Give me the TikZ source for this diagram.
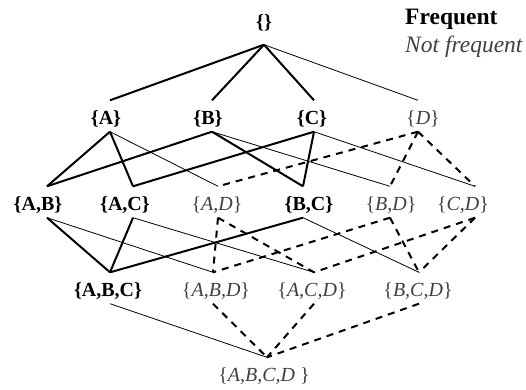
\documentclass[tikz,border=0pt]{standalone}
\usepackage{fontspec}
\setmainfont{Liberation Serif}
\usepackage{tikz}
\definecolor{infgray}{HTML}{404040}
\newcommand{\lbr}{{\upshape\{}}
\newcommand{\rbr}{{\upshape\}}}

\tikzset{
  set/.style={inner xsep=0pt, inner ysep=6pt, text height=18pt, text depth=1pt,
    font=\fontsize{20}{24}\selectfont},
  freq/.style={set, font=\fontsize{20}{24}\selectfont\bfseries},
  notfreq/.style={set, text=infgray, font=\fontsize{20}{24}\selectfont\itshape},
  freqedge/.style={line width=2pt},
  borderedge/.style={line width=0.8pt},
  infedge/.style={line width=2pt, dash pattern=on 7pt off 6pt}
}

\begin{document}
\begin{tikzpicture}[x=1pt, y=-1pt]
    		\useasboundingbox (0,0) rectangle (526,389);
    		
    		% the empty set
    		\node[freq] (e) at (264,20) {\lbr\rbr};
    		\coordinate (e-bot) at ([yshift=-9pt]e.south);
    		
    		% the lattice
    		\foreach \n/\x/\y/\dx/\st/\txt in {
    			a/106/116/4/freq/{A},
    			b/208/116/4/freq/{B},
    			c/312/116/2/freq/{C},
    			d/423/116/-5/notfreq/{D},
    			ab/38/202/9/freq/{A,B},
    			ac/125/202/8/freq/{A,C},
    			ad/217/202/1/notfreq/{A,D},
    			bc/309/202/-6/freq/{B,C},
    			bd/391/202/-1/notfreq/{B,D},
    			cd/463/202/12/notfreq/{C,D},
    			abc/108/288/2/freq/{A,B,C},
    			abd/216/288/-3/notfreq/{A,B,D},
    			acd/312/288/2/notfreq/{A,C,D},
    			bcd/418/288/1/notfreq/{B,C,D},
    			abcd/264/373/3/notfreq/{A,B,C,D}
    		}{
    			\node[\st] (\n) at (\x,\y) {\lbr\txt\rbr};
    			\coordinate (\n-top) at ([xshift=\dx pt]\n.north);
    			\coordinate (\n-bot) at ([xshift=\dx pt]\n.south);
    		}
    		
    		\foreach \u/\v in {e/a, e/b, e/c, a/ab, a/ac, b/ab, b/bc, c/ac, c/bc,
    			ab/abc, ac/abc, bc/abc}
    			\draw[freqedge] (\u-bot) -- (\v-top);
    		\foreach \u/\v in {e/d, a/ad, b/bd, c/cd, ab/abd, ac/acd, bc/bcd, abc/abcd}
    			\draw[borderedge] (\u-bot) -- (\v-top);
    		\foreach \u/\v in {d/ad, d/bd, d/cd, ad/abd, ad/acd, bd/abd, bd/bcd,
    			cd/acd, cd/bcd, abd/abcd, acd/abcd, bcd/abcd}
    			\draw[infedge] (\u-bot) -- (\v-top);
    		
    		% legend
    		\node[anchor=base west, inner sep=0pt, font=\fontsize{23.5}{28}\selectfont\bfseries]
    			(lfreq) at (405,24) {Frequent};
    		\node[anchor=base west, inner sep=0pt, text=infgray, font=\fontsize{23.5}{28}\selectfont\itshape]
    			(lnot) at (405,52) {Not frequent};
\end{tikzpicture}
\end{document}
